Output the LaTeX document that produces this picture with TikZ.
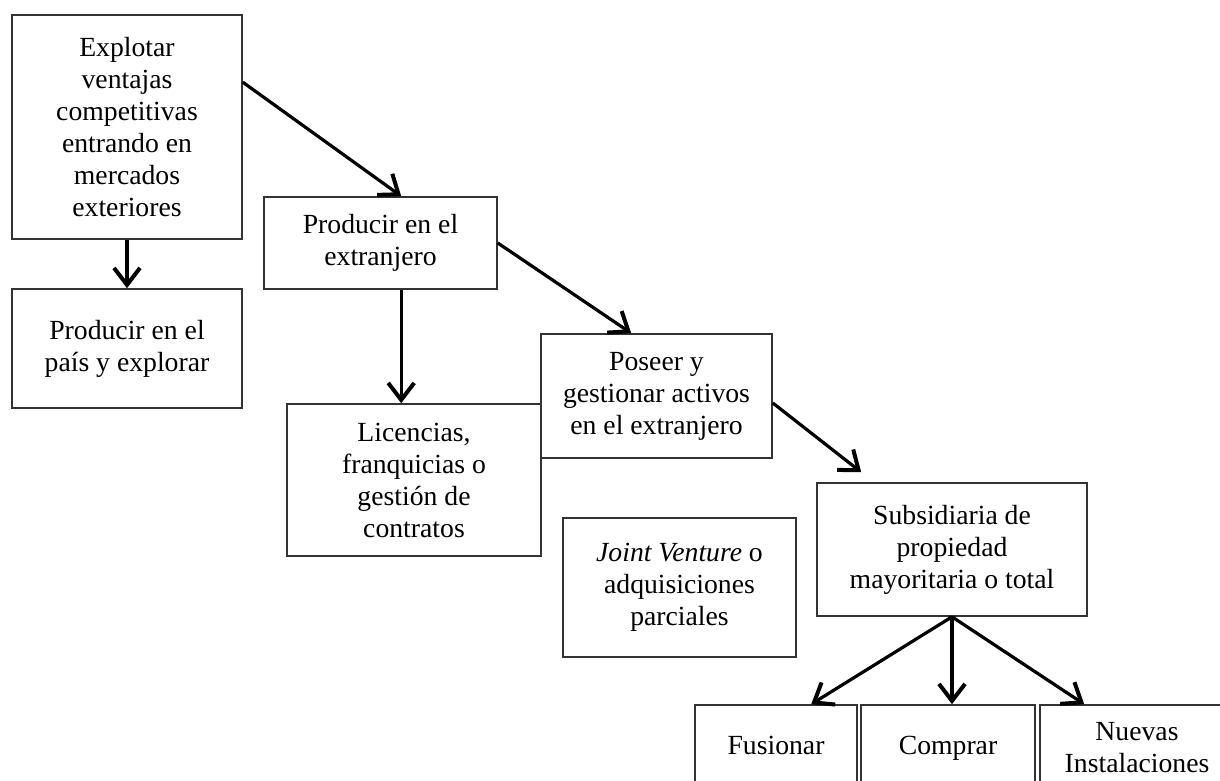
\documentclass[tikz,border=0pt]{standalone}
\usepackage{fontspec}
\setmainfont{Liberation Serif}
\usetikzlibrary{arrows.meta,calc}
\begin{document}
\begin{tikzpicture}[x=1pt,y=-1pt,
  box/.style={draw=black!80, line width=1.6pt, inner sep=0pt, align=center,
    font=\fontsize{27.7pt}{32pt}\selectfont, anchor=center},
  single/.style={text height=19pt, text depth=6pt},
  arr/.style={line width=3.2pt, black, -{Straight Barb[length=17pt,width=26pt,line width=4pt]}}]
\useasboundingbox (0,0) rectangle (1220,781);
\clip (0,0) rectangle (1220,781);
\fill[white] (0,0) rectangle (1220,781);
\node[box, minimum width=230pt, minimum height=224pt] (b1) at (127,127)
  {Explotar\\ventajas\\competitivas\\entrando en\\mercados\\exteriores};
\node[box, minimum width=230pt, minimum height=119pt] (b2) at (127,348.5)
  {Producir en el\\pa\'is y explorar};
\node[box, minimum width=233pt, minimum height=92pt] (b3) at (380.5,243)
  {Producir en el\\extranjero};
\node[box, minimum width=254pt, minimum height=152pt] (b4) at (414,480)
  {Licencias,\\franquicias o\\gesti\'on de\\contratos};
\node[box, minimum width=231pt, minimum height=124pt] (b5) at (656.5,396)
  {Poseer y\\gestionar activos\\en el extranjero};
\node[box, minimum width=233pt, minimum height=139pt] (b6) at (679.5,587.5)
  {\textit{Joint Venture} o\\adquisiciones\\parciales};
\node[box, minimum width=270pt, minimum height=133pt] (b7) at (952,549.5)
  {Subsidiaria de\\propiedad\\mayoritaria o total};
\node[box, single, minimum width=162pt, minimum height=85pt] (b8) at (776,747.5) {Fusionar};
\node[box, single, minimum width=174pt, minimum height=85pt] (b9) at (948,747.5) {Comprar};
\node[box, minimum width=194pt, minimum height=85pt] (b10) at (1137,747.5) {Nuevas\\Instalaciones};
\coordinate (e1) at ($(b3.north west)+(138,0)$);
\coordinate (s3) at ($(b3.south west)+(138,0)$);
\coordinate (e5) at ($(b5.north west)+(91,0)$);
\coordinate (e7) at ($(b7.north west)+(45,-10)$);
\draw[arr] ($(b1.north east)+(0,68)$) -- (e1);
\draw[arr] (b1.south) -- (b2.north);
\draw[arr] (b3.east) -- (e5);
\draw[arr] (s3) -- (s3 |- b4.north);
\draw[arr] ($(b5.east)+(0,7)$) -- (e7);
\draw[arr] (b7.south) -- ($(b8.north west)+(117,0)$);
\draw[arr] (b7.south) -- (b7.south |- b9.north);
\draw[arr] (b7.south) -- ($(b10.north west)+(45,0)$);
\end{tikzpicture}
\end{document}
